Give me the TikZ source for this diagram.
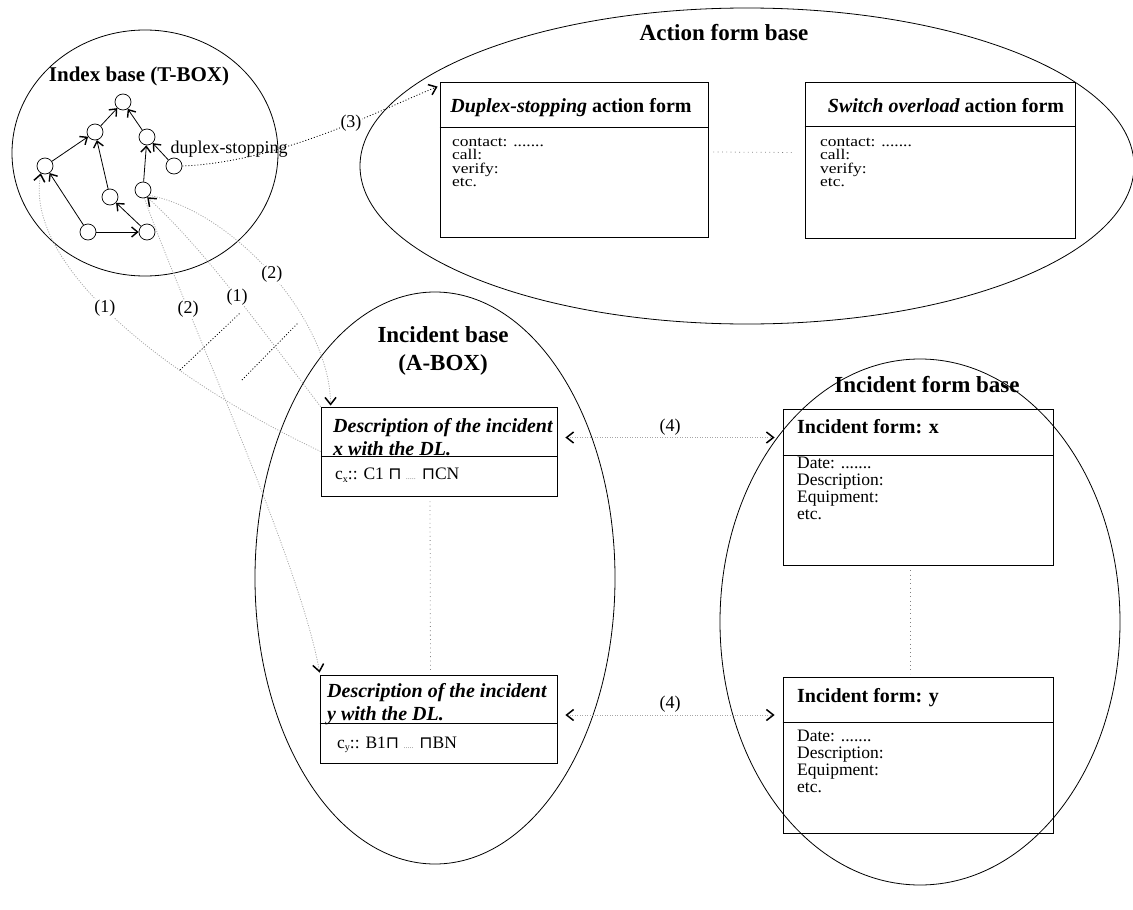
\documentclass[tikz,border=0pt]{standalone}
\usepackage{fontspec}
\setmainfont{Liberation Serif}
\newfontfamily\actionfont[FakeStretch=1.18]{Liberation Serif}
\newfontfamily\symbolfont{DejaVu Sans}
\usetikzlibrary{shapes.geometric,arrows.meta,calc}
\tikzset{
  base/.style={draw=black, ellipse, line width=0.8pt, inner sep=0pt},
  base title/.style={font=\fontsize{23}{28}\selectfont\bfseries, align=center},
  form/.style={draw=black, line width=0.8pt, inner sep=0pt},
  divider/.style={draw=black, line width=0.8pt},
  form title/.style={font=\fontsize{20}{23}\selectfont\bfseries, inner sep=0pt},
  desc title/.style={font=\fontsize{20}{23}\selectfont\bfseries\itshape, anchor=north west, align=left, inner sep=0pt},
  form text/.style={font=\actionfont\fontsize{14.8}{13.3}\selectfont, anchor=north west, align=left, inner sep=0pt},
  incident text/.style={font=\fontsize{17.5}{16.8}\selectfont, anchor=north west, align=left, inner sep=0pt},
  concept/.style={draw=black, circle, minimum size=16pt, inner sep=0pt, line width=0.7pt},
  concept label/.style={font=\fontsize{18}{20}\selectfont, inner sep=0pt},
  link/.style={line width=0.8pt, arrows={-{Straight Barb[length=6pt,width=10pt,line width=1.4pt]}}},
  ref/.style={draw=gray!70, line width=0.8pt, dash pattern=on 1pt off 1.5pt},
  ref black/.style={draw=black, line width=0.8pt, dash pattern=on 1pt off 2pt},
  ref label/.style={font=\fontsize{18}{20}\selectfont, fill=white, inner sep=1pt},
  tip/.style={arrows={-{Straight Barb[length=7pt,width=11pt,line width=1.5pt,color=black]}}},
  tips/.style={arrows={{Straight Barb[length=7pt,width=11pt,line width=1.5pt,color=black]}-{Straight Barb[length=7pt,width=11pt,line width=1.5pt,color=black]}}},
  sep/.style={draw=gray, line width=0.8pt, dash pattern=on 0.8pt off 3.5pt}
}
\newcommand{\gapdots}{{\color{gray}\fontsize{8}{8}\selectfont .....}}
\newcommand{\meet}{{\symbolfont\fontsize{17}{20}\selectfont ⊓}}
\newcommand{\lowsub}[1]{\raisebox{-2.5pt}{\fontsize{10}{10}\selectfont #1}}

\begin{document}
\begin{tikzpicture}[x=1pt, y=-1pt]
  \useasboundingbox (0,0) rectangle (1133,910);

  \node[base, minimum width=266pt, minimum height=246pt] at (145,153) (index) {};
  \node[base, minimum width=774pt, minimum height=316pt] at (747,166) (action) {};
  \node[base, minimum width=360pt, minimum height=572pt] at (435,578) (incident) {};
  \node[base, minimum width=400pt, minimum height=526pt] at (920,622) (iform) {};

  \node[base title, font=\fontsize{21}{25}\selectfont\bfseries, anchor=base] at (139,81) (index title) {Index base (T-BOX)};
  \node[base title, anchor=base] at (724,40) (action title) {Action form base};
  \node[base title, anchor=north, inner sep=0pt] at (443,326) (incident title) {Incident base\\(A-BOX)};
  \node[base title, anchor=base] at (927,392) (iform title) {Incident form base};

  % concept hierarchy
  \node[concept] at (123,102) (c1) {};
  \node[concept] at (95,132) (c2) {};
  \node[concept] at (147,137) (c3) {};
  \node[concept] at (45,166) (c4) {};
  \node[concept] at (174,166) (c5) {};
  \node[concept] at (110,197) (c6) {};
  \node[concept] at (143,190) (c7) {};
  \node[concept] at (88,232) (c8) {};
  \node[concept] at (147,232) (c9) {};
  \node[concept label] at (229,149) (c5 label) {duplex-stopping};

  \draw[link] (c2) -- (c1);
  \draw[link] (c3) -- (c1);
  \draw[link] (c4) -- (c2);
  \draw[link] (c6) -- (c2);
  \draw[link] (c7) -- (c3);
  \draw[link] (c5) -- (c3);
  \draw[link] (c8) -- (c4);
  \draw[link] (c8) -- (c9);
  \draw[link] (c9) -- (c6);

  % action forms
  \node[form, minimum width=268pt, minimum height=155pt] at (574,159.5) (ds form) {};
  \draw[divider] ($(ds form.north west)+(0,46)$) -- ($(ds form.north east)+(0,46)$);
  \node[form title, anchor=base] at (571,112) (ds title) {\itshape Duplex-stopping\upshape{} action form};
  \node[form text] at (452,138) (ds text) {contact: .......\\call:\\verify:\\etc.};

  \node[form, minimum width=270pt, minimum height=156pt] at (940,160) (sw form) {};
  \draw[divider] ($(sw form.north west)+(0,45)$) -- ($(sw form.north east)+(0,45)$);
  \node[form title, anchor=base] at (946,112) (sw title) {\itshape Switch overload\upshape{} action form};
  \node[form text] at (820,138) (sw text) {contact: .......\\call:\\verify:\\etc.};

  \draw[sep] ($(ds form.east)+(5,-7.5)$) -- ($(sw form.west)+(-10,-7.5)$);

  % incident descriptions
  \node[form, minimum width=236pt, minimum height=89pt] at (439,451.5) (x desc) {};
  \draw[divider] ($(x desc.north west)+(0,50)$) -- ($(x desc.north east)+(0,50)$);
  \node[desc title] at (333,418) (x title) {Description of the incident\\x with the DL.};
  \node[font=\fontsize{17.5}{20}\selectfont, anchor=west, inner sep=0pt] at (335,475) (x concepts) {c\lowsub{x}:: C1 \meet{} \gapdots{} \meet{}CN};

  \node[form, minimum width=237pt, minimum height=88pt] at (438.5,719) (y desc) {};
  \draw[divider] ($(y desc.north west)+(0,49)$) -- ($(y desc.north east)+(0,49)$);
  \node[desc title] at (327,683) (y title) {Description of the incident\\y with the DL.};
  \node[font=\fontsize{17.5}{20}\selectfont, anchor=west, inner sep=0pt] at (337,745) (y concepts) {c\lowsub{y}:: B1\meet{} \gapdots{} \meet{}BN};

  \draw[sep] ($(x desc.south)+(-9,5)$) -- ($(y desc.north)+(-8,-3)$);

  % incident forms
  \node[form, minimum width=270pt, minimum height=156pt] at (918,487) (x form) {};
  \draw[divider] ($(x form.north west)+(0,47)$) -- ($(x form.north east)+(0,47)$);
  \node[form title, anchor=base west] at (797,433) (x form title) {Incident form: x};
  \node[incident text] at (797,457) (x form text) {Date: .......\\Description:\\Equipment:\\etc.};

  \node[form, minimum width=270pt, minimum height=156pt] at (918,755) (y form) {};
  \draw[divider] ($(y form.north west)+(0,46)$) -- ($(y form.north east)+(0,46)$);
  \node[form title, anchor=base west] at (797,702) (y form title) {Incident form: y};
  \node[incident text] at (797,730) (y form text) {Date: .......\\Description:\\Equipment:\\etc.};

  \draw[sep] ($(x form.south)+(-8,5)$) -- ($(y form.north)+(-8,-3)$);

  % links between the bases
  \draw[ref black, tip] (c5.east) .. controls (280,162) and (380,110) .. ($(ds form.north west)+(-2,5)$) node[ref label, pos=.6] {(3)};

  \draw[ref, tip] (x desc.west) .. controls (150,370) and (25,260) .. (c4.240) node[ref label, pos=.52] {(1)};
  \draw[ref, tip] (x desc.north west) .. controls (262,330) and (205,250) .. (c7.300) node[ref label, pos=.48] {(1)};
  \draw[ref, tip] (c7.320) .. controls (235,212) and (330,320) .. ($(x desc.north west)+(10,-1)$) node[ref label, pos=.5] {(2)};
  \draw[ref, tip] (c7.280) .. controls (180,300) and (300,560) .. ($(y desc.north west)+(0,-2)$) node[ref label, pos=.27] {(2)};

  \draw[ref black] (180,370) -- (240,313);
  \draw[ref black] (242,380) -- (298,323);

  \draw[ref, tips] ($(x desc.east)+(8,-14)$) coordinate (x link) -- ($(x link -| x form.west)+(-8,0)$) node[ref label, fill=none, midway, above=1pt] {(4)};
  \draw[ref, tips] ($(y desc.east)+(8,-4)$) coordinate (y link) -- ($(y link -| y form.west)+(-8,0)$) node[ref label, fill=none, midway, above=1pt] {(4)};
\end{tikzpicture}
\end{document}
